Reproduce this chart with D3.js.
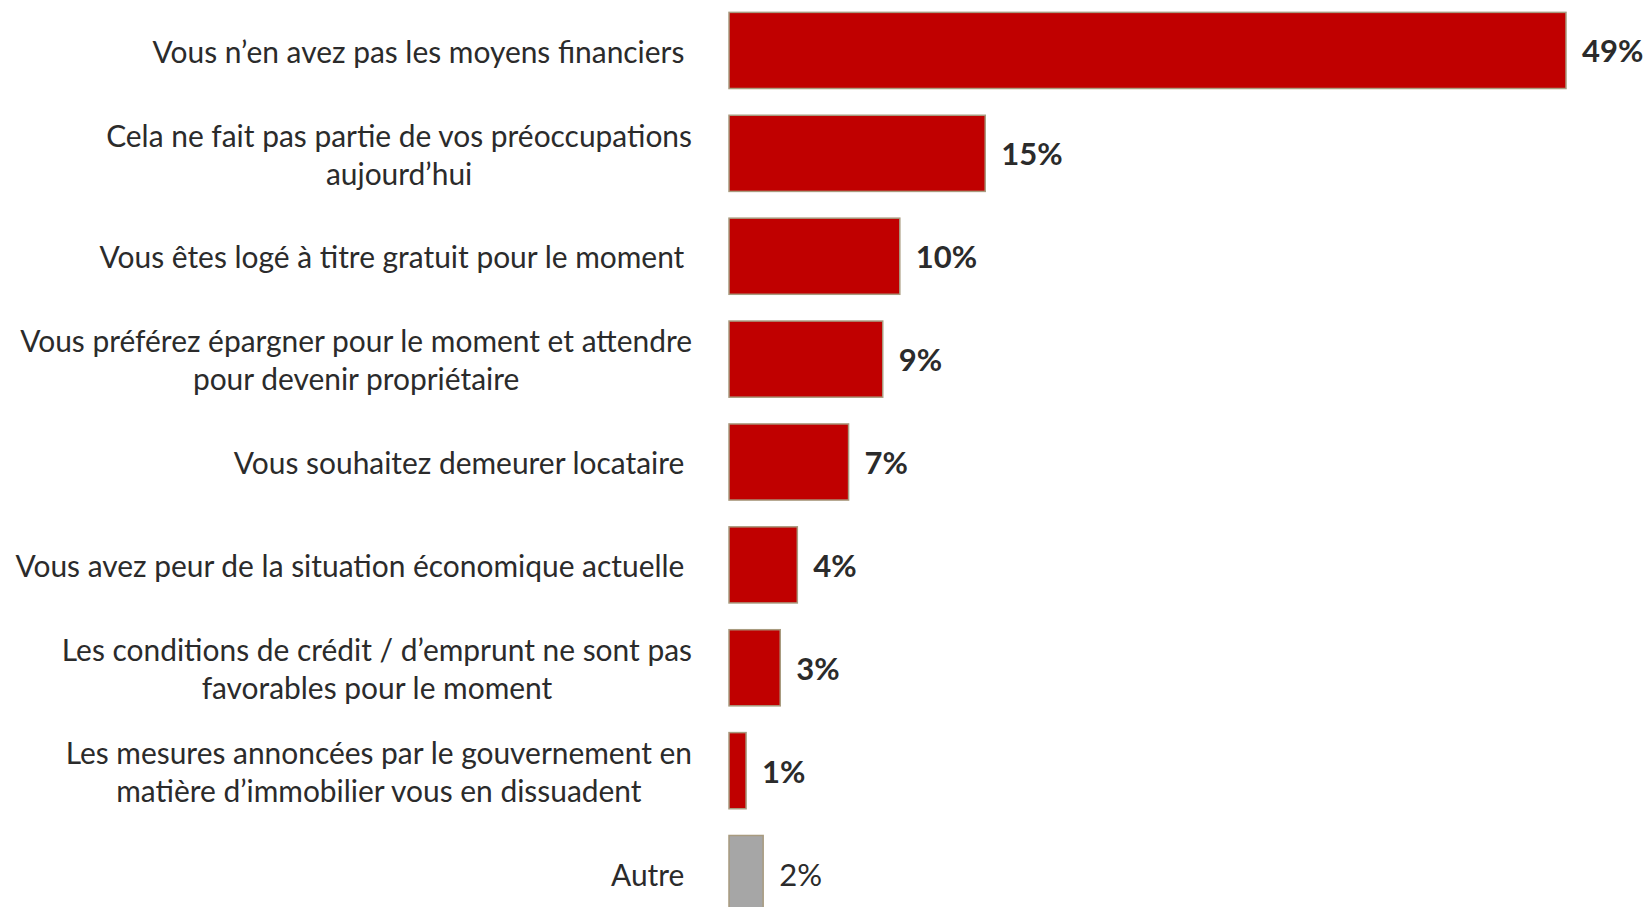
<!DOCTYPE html>
<html lang="fr">
<head>
<meta charset="utf-8">
<script src="https://cdn.jsdelivr.net/npm/d3@7"></script>
<style>
  html, body { margin: 0; padding: 0; background: #ffffff; }
  svg { display: block; }
  text { font-family: Lato, "Open Sans", sans-serif; fill: #2b2b2b; }
</style>
</head>
<body>
<svg id="chart" width="1649" height="907"></svg>
<script>
// Raisons de ne pas devenir propriétaire (en %)
const categories = [
  "Vous n’en avez pas les moyens financiers ",
  "Cela ne fait pas partie de vos préoccupations\naujourd’hui",
  "Vous êtes logé à titre gratuit pour le moment ",
  "Vous préférez épargner pour le moment et attendre\npour devenir propriétaire",
  "Vous souhaitez demeurer locataire ",
  "Vous avez peur de la situation économique actuelle ",
  "Les conditions de crédit / d’emprunt ne sont pas\nfavorables pour le moment",
  "Les mesures annoncées par le gouvernement en\nmatière d’immobilier vous en dissuadent",
  "Autre "
];
const values = [49, 15, 10, 9, 7, 4, 3, 1, 2];
const isOther = [false, false, false, false, false, false, false, false, true];

const rows = categories.map((c, i) => ({ label: c, value: values[i], other: isOther[i] }));

const svg = d3.select("#chart");

const x = d3.scaleLinear().domain([0, 49]).range([729, 1566]);
const y = d3.scaleBand()
  .domain(categories)
  .range([-1, 925])
  .paddingInner(0.26)
  .paddingOuter(0.13);

// Bars
svg.append("g")
  .selectAll("rect")
  .data(rows)
  .join("rect")
  .attr("x", x(0))
  .attr("y", d => y(d.label))
  .attr("width", d => x(d.value) - x(0))
  .attr("height", y.bandwidth())
  .attr("fill", d => d.other ? "#a6a6a6" : "#c00000")
  .attr("stroke", "#a89b7f")
  .attr("stroke-width", 1.5);

// Value labels
svg.append("g")
  .selectAll("text")
  .data(rows)
  .join("text")
  .attr("x", d => x(d.value) + 16)
  .attr("y", d => y(d.label) + y.bandwidth() / 2)
  .attr("dominant-baseline", "central")
  .attr("font-size", 31)
  .attr("font-weight", d => d.other ? 400 : 700)
  .text(d => d.value + "%");

// Category labels: block right-aligned at the axis, wrapped lines centred on each other
const lineGap = 38;
const labels = svg.append("g")
  .selectAll("text")
  .data(rows)
  .join("text")
  .attr("text-anchor", "middle")
  .attr("font-size", 31)
  .style("white-space", "pre")
  .attr("transform", d => `translate(692,${y(d.label) + y.bandwidth() / 2}) scale(0.965,1)`);

labels.each(function(d) {
  const lines = d.label.split("\n");
  const t = d3.select(this);
  const spans = lines.map((ln, k) =>
    t.append("tspan")
      .attr("y", (k - (lines.length - 1) / 2) * lineGap)
      .attr("dominant-baseline", "central")
      .text(ln)
  );
  const maxW = d3.max(spans, s => s.node().getComputedTextLength());
  spans.forEach(s => s.attr("x", -maxW / 2));
});
</script>
</body>
</html>
